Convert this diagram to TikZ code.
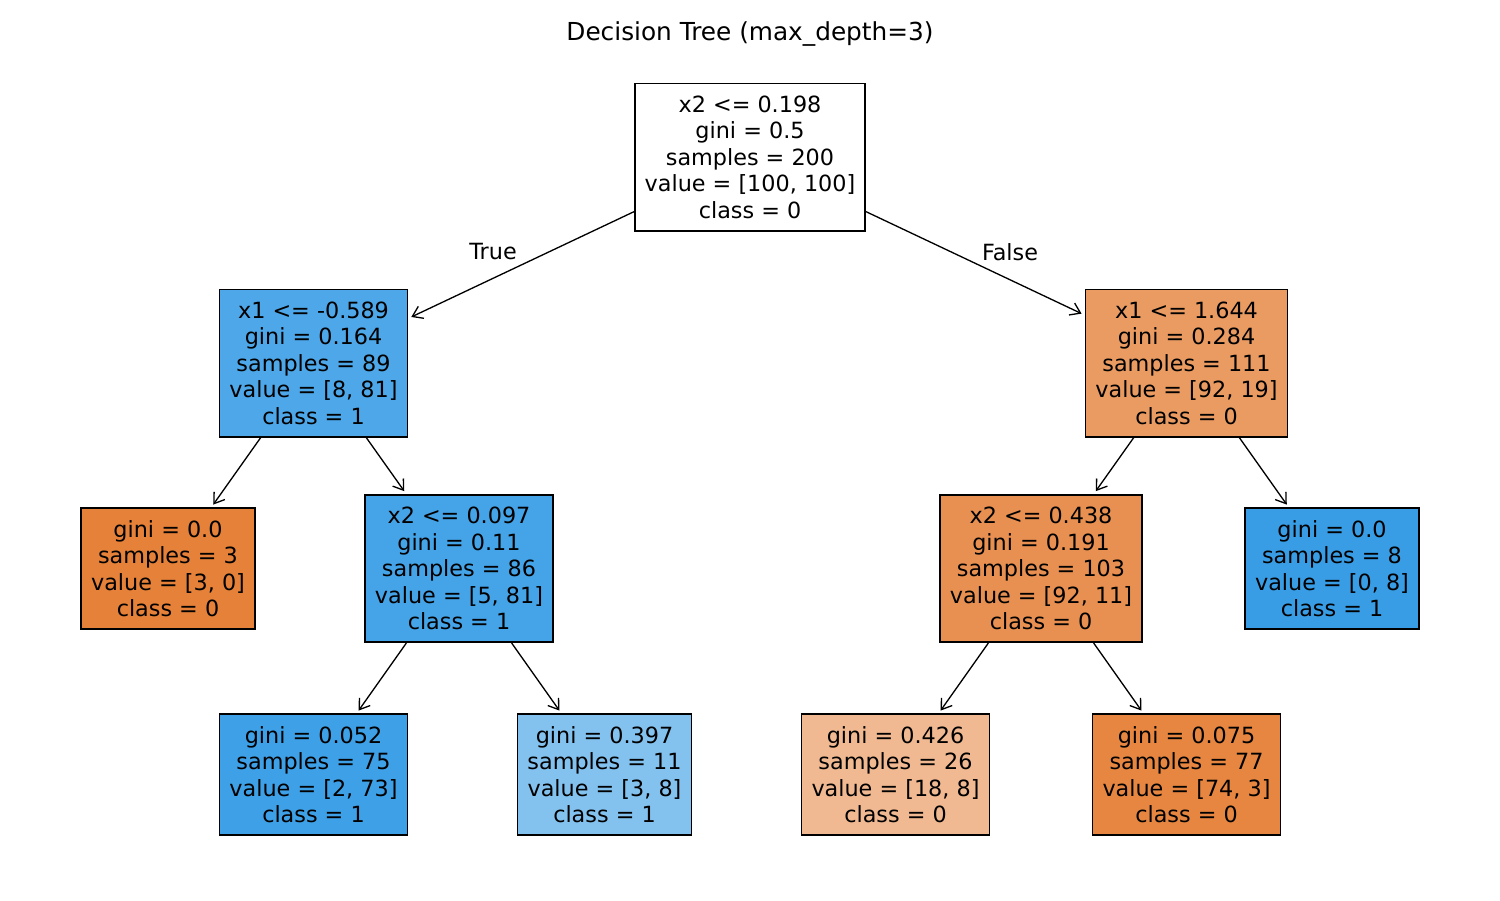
\documentclass[tikz,border=0pt]{standalone}
\usepackage{fontspec}
\setmainfont{DejaVu Sans}
\usetikzlibrary{arrows.meta}

\definecolor{nodeRoot}{RGB}{255,255,255}
\definecolor{nodeA}{RGB}{77,167,232}
\definecolor{nodeB}{RGB}{234,155,98}
\definecolor{nodeC}{RGB}{229,129,57}
\definecolor{nodeD}{RGB}{69,163,231}
\definecolor{nodeE}{RGB}{232,144,81}
\definecolor{nodeF}{RGB}{57,157,229}
\definecolor{nodeG}{RGB}{62,160,230}
\definecolor{nodeH}{RGB}{131,194,239}
\definecolor{nodeI}{RGB}{241,185,145}
\definecolor{nodeJ}{RGB}{230,134,65}

\begin{document}
\begin{tikzpicture}
        [ x=0.02cm, y=-0.02cm,
          every node/.style = {font=\fontsize{12.7}{15.1}\selectfont, align=center},
          tree box/.style = {draw=black, line width=0.9pt, inner xsep=5.6pt, inner ysep=0pt},
          split node/.style = {tree box, minimum height=83.9pt},
          leaf node/.style = {tree box, minimum height=68.6pt},
          tree edge/.style = {line width=0.75pt, -{Straight Barb[length=5.5pt,width=7.5pt]},
                              shorten >=2pt}]
        \useasboundingbox (0,0) rectangle (1500,900);
        \node[font=\fontsize{14.1}{16.9}\selectfont] (title) at (750,34) {Decision Tree (max\_depth=3)};
        % splits
        \node[split node, fill=nodeRoot] (root) at (750,157)
            {x2 <= 0.198\\gini = 0.5\\samples = 200\\value = [100, 100]\\class = 0};
        \node[split node, fill=nodeA] (left) at (313.5,363)
            {x1 <= -0.589\\gini = 0.164\\samples = 89\\value = [8, 81]\\class = 1};
        \node[split node, fill=nodeB] (right) at (1186.5,363)
            {x1 <= 1.644\\gini = 0.284\\samples = 111\\value = [92, 19]\\class = 0};
        \node[split node, fill=nodeD] (leftR) at (459,568.5)
            {x2 <= 0.097\\gini = 0.11\\samples = 86\\value = [5, 81]\\class = 1};
        \node[split node, fill=nodeE] (rightL) at (1041,568.5)
            {x2 <= 0.438\\gini = 0.191\\samples = 103\\value = [92, 11]\\class = 0};
        % leaves
        \node[leaf node, fill=nodeC] (leftL) at (168,568.5)
            {gini = 0.0\\samples = 3\\value = [3, 0]\\class = 0};
        \node[leaf node, fill=nodeF] (rightR) at (1332,568.5)
            {gini = 0.0\\samples = 8\\value = [0, 8]\\class = 1};
        \node[leaf node, fill=nodeG] (leftRL) at (313.5,774.5)
            {gini = 0.052\\samples = 75\\value = [2, 73]\\class = 1};
        \node[leaf node, fill=nodeH] (leftRR) at (604.5,774.5)
            {gini = 0.397\\samples = 11\\value = [3, 8]\\class = 1};
        \node[leaf node, fill=nodeI] (rightLL) at (895.5,774.5)
            {gini = 0.426\\samples = 26\\value = [18, 8]\\class = 0};
        \node[leaf node, fill=nodeJ] (rightLR) at (1186.5,774.5)
            {gini = 0.075\\samples = 77\\value = [74, 3]\\class = 0};
        % edges
        \draw[tree edge] (root) -- (left);
        \draw[tree edge] (root) -- (right);
        \draw[tree edge] (left) -- (leftL);
        \draw[tree edge] (left) -- (leftR);
        \draw[tree edge] (right) -- (rightL);
        \draw[tree edge] (right) -- (rightR);
        \draw[tree edge] (leftR) -- (leftRL);
        \draw[tree edge] (leftR) -- (leftRR);
        \draw[tree edge] (rightL) -- (rightLL);
        \draw[tree edge] (rightL) -- (rightLR);
        \node (lblTrue) at (493,252) {True};
        \node (lblFalse) at (1010,252) {False};
    \end{tikzpicture}
\end{document}
